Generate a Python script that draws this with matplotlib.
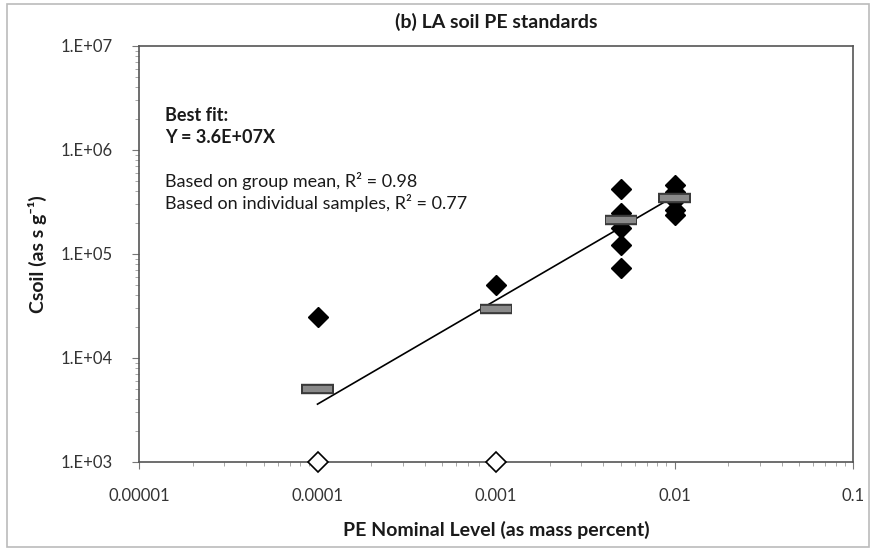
#!/usr/bin/env python3
import numpy as np
import matplotlib
matplotlib.use('Agg')
import matplotlib.pyplot as plt
from matplotlib.patches import Rectangle
from matplotlib.ticker import LogLocator, FixedLocator, NullFormatter

plt.rcParams['font.family'] = ['Lato', 'DejaVu Sans']

# individual samples
sample_x = [0.0001, 0.001,
            0.005, 0.005, 0.005, 0.005, 0.005,
            0.01, 0.01, 0.01, 0.01, 0.01]
sample_y = [25000, 50000,
            420000, 250000, 178000, 122000, 74000,
            460000, 395000, 330000, 265000, 235000]
# samples below detection (shown on axis)
nd_x = [0.0001, 0.001]
nd_y = [1000, 1000]
# group means
mean_x = [0.0001, 0.001, 0.005, 0.01]
mean_y = [5000, 29500, 212000, 345000]
# best fit Y = 3.6E+07 X
fit_slope = 3.6e7
fit_x = [0.0001, 0.01]

x_ticks = [0.00001, 0.0001, 0.001, 0.01, 0.1]
x_labels = ['0.00001', '0.0001', '0.001', '0.01', '0.1']
y_ticks = [1e3, 1e4, 1e5, 1e6, 1e7]
y_labels = ['1.E+03', '1.E+04', '1.E+05', '1.E+06', '1.E+07']

label_size = 13
tick_color = '#333333'
text_color = '#1a1a1a'

fig = plt.figure(figsize=(8.73, 5.49), dpi=100)
ax = fig.add_axes([139/873, 1 - 462/549, (853 - 139)/873, (462 - 46)/549])

ax.set_xscale('log')
ax.set_yscale('log')
ax.set_xlim(1e-5, 0.1)
ax.set_ylim(1e3, 1e7)

fx = np.array(fit_x)
ax.plot(fx, fit_slope * fx, color='black', lw=1.2, zorder=2)

ax.plot(sample_x, sample_y, linestyle='none', marker='D', markersize=10,
        color='black', zorder=3)
ax.plot(nd_x, nd_y, linestyle='none', marker='D', markersize=10,
        markerfacecolor='white', markeredgecolor='black', markeredgewidth=1.2,
        clip_on=False, zorder=5)

# group means drawn as flat bars
for mx, my in zip(mean_x, mean_y):
    ax.plot([mx / 1.23, mx * 1.23], [my, my], color='#3a3a3a',
            lw=7.5, solid_capstyle='butt', zorder=4)
    ax.plot([mx / 1.21, mx * 1.21], [my, my], color='#8a8a8a',
            lw=4.5, solid_capstyle='butt', zorder=4)

ax.xaxis.set_major_locator(FixedLocator(x_ticks))
ax.set_xticklabels(x_labels)
ax.xaxis.set_minor_locator(LogLocator(base=10, subs=np.arange(2, 10)))
ax.xaxis.set_minor_formatter(NullFormatter())
ax.yaxis.set_major_locator(FixedLocator(y_ticks))
ax.set_yticklabels(y_labels)
ax.yaxis.set_minor_locator(LogLocator(base=10, subs=np.arange(2, 10)))
ax.yaxis.set_minor_formatter(NullFormatter())

ax.tick_params(which='major', length=5, color='#777777', labelsize=label_size - 1,
               labelcolor=tick_color)
ax.tick_params(which='minor', length=3, color='#999999')
ax.tick_params(axis='y', pad=14)
ax.tick_params(axis='x', pad=14)
for s in ax.spines.values():
    s.set_color('#555555')
    s.set_linewidth(1.2)

ax.set_title('(b) LA soil PE standards', fontsize=label_size + 1,
             fontweight='bold', color=text_color, pad=13)
ax.set_xlabel('PE Nominal Level (as mass percent)', fontsize=label_size + 1,
              fontweight='bold', color=text_color, labelpad=12)
ax.set_ylabel('Csoil (as s g\u207b\u00b9)', fontsize=label_size + 1,
              fontweight='bold', color=text_color, labelpad=10)

ax.text(0.036, 0.834, 'Best fit:', transform=ax.transAxes, fontsize=label_size,
        fontweight='bold', color=text_color, va='center')
ax.text(0.036, 0.781, 'Y = 3.6E+07X', transform=ax.transAxes, fontsize=label_size,
        fontweight='bold', color=text_color, va='center')
ax.text(0.036, 0.675, 'Based on group mean, R\u00b2 = 0.98', transform=ax.transAxes,
        fontsize=label_size, color=text_color, va='center')
ax.text(0.036, 0.623, 'Based on individual samples, R\u00b2 = 0.77',
        transform=ax.transAxes, fontsize=label_size, color=text_color, va='center')

# outer chart border
fig.patches.append(Rectangle((7/873, 2/549), 862/873, 543/549, transform=fig.transFigure,
                             fill=False, edgecolor='#bbbbbb', lw=1.2))

fig.savefig('out.png', dpi=100)
